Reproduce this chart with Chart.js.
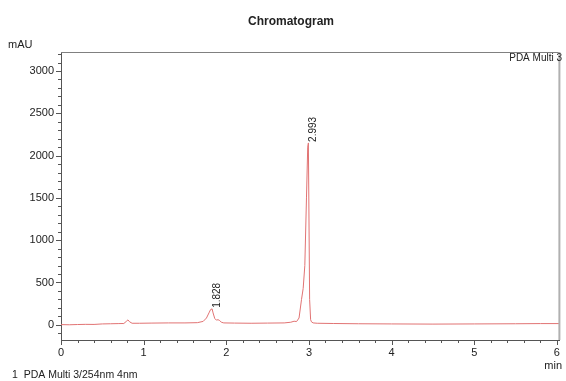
<!DOCTYPE html>
<html><head><meta charset="utf-8">
<script src="https://cdn.jsdelivr.net/npm/chart.js@4.4.0/dist/chart.umd.min.js"></script>
<style>html,body{margin:0;padding:0;background:#fff}#wrap{width:566px;height:381px}</style>
</head><body><div id="wrap"><canvas id="c" width="566" height="381"></canvas></div>
<script>
const chartTitle = 'Chromatogram';
const yUnit = 'mAU';
const xUnit = 'min';
const channelName = 'PDA Multi 3';
const footerText = '1  PDA Multi 3/254nm 4nm';

const times = [0.00,0.10,0.20,0.30,0.40,0.50,0.60,0.70,0.76,0.79,0.81,0.83,0.86,0.95,1.10,1.30,1.50,1.65,1.72,1.76,1.79,1.81,1.828,1.84,1.86,1.88,1.90,1.92,1.94,1.97,2.10,2.30,2.50,2.70,2.78,2.82,2.85,2.88,2.91,2.93,2.95,2.97,2.985,2.993,3.008,3.02,3.03,3.05,3.10,3.30,3.60,4.00,4.50,5.00,5.50,5.80,6.03];
const absorbance = [2,0,3,5,4,10,12,14,15,40,58,35,18,18,20,22,22,25,40,80,140,180,188,140,75,55,60,50,30,22,20,18,20,22,30,42,38,80,300,430,700,1500,2100,2150,300,60,35,22,18,15,12,10,8,10,12,14,14];

const peakTimes = [1.828, 2.993];
const peakHeights = [188, 2150];
const peakLabels = ['1.828', '2.993'];

const xTickLabels = [0,1,2,3,4,5,6];
const yTickLabels = [0,500,1000,1500,2000,2500,3000];
const xRange = [0, 6.03];
const yRange = [-180, 3225];

const FONT = "'Liberation Sans', Arial, Helvetica, sans-serif";
const TXT = '#222';

const overlay = {
  id: 'overlay',
  afterDraw(chart) {
    const {ctx, chartArea: a, scales: {x, y}} = chart;
    ctx.save();
    ctx.strokeStyle = '#808080'; ctx.lineWidth = 1;
    ctx.beginPath(); ctx.moveTo(a.left, a.top + 0.5); ctx.lineTo(a.right, a.top + 0.5); ctx.stroke();
    ctx.strokeStyle = '#b0b0b0'; ctx.lineWidth = 2;
    ctx.beginPath(); ctx.moveTo(a.right, a.top); ctx.lineTo(a.right, a.bottom); ctx.stroke();
    ctx.strokeStyle = '#555'; ctx.lineWidth = 1;
    ctx.beginPath();
    for (let i = 0; i <= 30; i++) {
      const v = i * 0.2;
      const px = Math.round(x.getPixelForValue(v)) + 0.5;
      const major = i % 5 === 0;
      ctx.moveTo(px, a.bottom); ctx.lineTo(px, a.bottom + (major ? 5 : 3));
    }
    for (let i = -1; i <= 32; i++) {
      const v = i * 100;
      const py = Math.round(y.getPixelForValue(v)) + 0.5;
      if (py < a.top || py > a.bottom) continue;
      const major = i % 5 === 0;
      ctx.moveTo(a.left, py); ctx.lineTo(a.left - (major ? 5 : 3), py);
    }
    ctx.stroke();
    ctx.fillStyle = TXT;
    ctx.font = '10px ' + FONT;
    ctx.textAlign = 'left'; ctx.textBaseline = 'middle';
    peakTimes.forEach((t, i) => {
      const px = x.getPixelForValue(t) + 5;
      const py = y.getPixelForValue(peakHeights[i]) - 1;
      ctx.save(); ctx.translate(px, py); ctx.rotate(-Math.PI / 2);
      ctx.fillText(peakLabels[i], 0, 0); ctx.restore();
    });
    ctx.font = 'bold 12px ' + FONT; ctx.textAlign = 'center';
    ctx.fillText(chartTitle, 291, 22);
    ctx.font = '11px ' + FONT; ctx.textAlign = 'left';
    ctx.fillText(yUnit, 8, 45);
    ctx.textAlign = 'right';
    ctx.fillText(xUnit, 562, 366);
    ctx.font = '10px ' + FONT;
    ctx.fillText(channelName, 562, 58);
    ctx.font = '10.5px ' + FONT; ctx.textAlign = 'left';
    ctx.fillText(footerText, 12, 375);
    ctx.restore();
  }
};

new Chart(document.getElementById('c'), {
  type: 'line',
  data: {
    datasets: [{
      data: times.map((t, i) => ({x: t, y: absorbance[i]})),
      borderColor: 'rgb(225,115,115)',
      borderWidth: 1,
      pointRadius: 0,
      tension: 0,
      fill: false
    }]
  },
  options: {
    responsive: false,
    animation: false,
    devicePixelRatio: 1,
    layout: {padding: {top: 52, right: 5, left: 0, bottom: 0}},
    plugins: {legend: {display: false}, title: {display: false}, tooltip: {enabled: false}},
    scales: {
      x: {
        type: 'linear', min: xRange[0], max: xRange[1],
        afterBuildTicks: s => { s.ticks = xTickLabels.map(v => ({value: v})); },
        afterFit: s => { s.height = 41; },
        grid: {display: false, drawTicks: false, tickLength: 0},
        border: {display: true, color: '#555', width: 1},
        ticks: {padding: 6, color: TXT, font: {family: FONT, size: 11}, maxRotation: 0, autoSkip: false, callback: v => String(v)}
      },
      y: {
        type: 'linear', min: yRange[0], max: yRange[1],
        afterBuildTicks: s => { s.ticks = yTickLabels.map(v => ({value: v})); },
        afterFit: s => { s.width = 61; },
        grid: {display: false, drawTicks: false, tickLength: 0},
        border: {display: true, color: '#555', width: 1},
        ticks: {padding: 7, color: TXT, font: {family: FONT, size: 11}, autoSkip: false, callback: v => String(v)}
      }
    }
  },
  plugins: [overlay]
});
</script>
</body></html>
